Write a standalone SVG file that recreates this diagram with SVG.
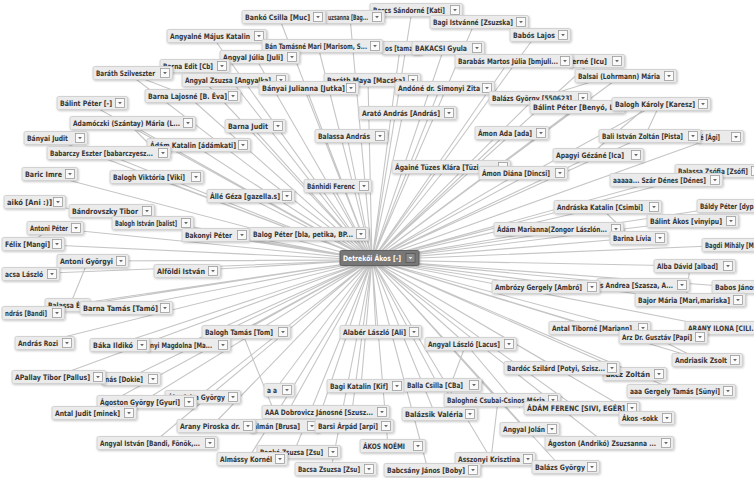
<svg xmlns="http://www.w3.org/2000/svg" xmlns:xlink="http://www.w3.org/1999/xlink" width="754" height="478" viewBox="0 0 754 478">
<style>
.e path{stroke:#c6c6c6;stroke-width:1.1;fill:none}
.b{fill:#ebebeb;stroke:#d2d2d2;stroke-width:1;filter:url(#sh)}
.t{font-family:"DejaVu Sans","Liberation Sans",sans-serif;font-weight:bold;font-size:7.5px;fill:#363636}
.hub .b{fill:#777;stroke:#606060}
.hub .t{fill:#fff}
</style>
<defs>
<filter id="sh" x="-10%" y="-30%" width="120%" height="170%">
<feDropShadow dx="0.8" dy="1" stdDeviation="0.8" flood-color="#000" flood-opacity="0.22"/>
</filter>
<g id="dd"><rect x="0" y="-4.5" width="9" height="9" fill="#fafafa" stroke="#9c9c9c" stroke-width="0.8"/><path d="M2.6,-1.1h3.8l-1.9,2.3z" fill="#666"/></g>
<g id="ddk"><rect x="0" y="-4.5" width="9" height="9" fill="#8a8a8a" stroke="#555" stroke-width="0.8"/><path d="M2.6,-1.1h3.8l-1.9,2.3z" fill="#eee"/></g>
</defs>
<rect width="754" height="478" fill="#fff"/>

<!-- connectors: every contact is linked to the hub, plus a few cross links -->
<g class="e" id="connectors">
<path d="M372,260L279,17M372,260L350,17M372,260L412,10M372,260L475,22M372,260L536,35M372,260L212,36M372,260L318,46M372,260L400,48M372,260L444,48M372,260L509,61M372,260L592,61M372,260L255,57M372,260L190,66M372,260L128,73M372,260L231,80M372,260L368,80M372,260L304,88M372,260L188,96M372,260L440,88M372,260L621,76M372,260L535,98M372,260L577,107M372,260L657,104M372,260L88,103M372,260L128,123M372,260L251,126M372,260L403,113M372,260L347,136M372,260L507,133M372,260L645,136M372,260L716,137M372,260L51,138M372,260L194,145M372,260L104,153M372,260L594,155M372,260L715,171M372,260L662,180M372,260L447,167M372,260L519,173M372,260L45,174M372,260L152,177M372,260L333,186M372,260L246,196M372,260L30,202M372,260L107,211M372,260L730,206M372,260L603,207M372,260L688,221M372,260L148,223M372,260L554,229M372,260L51,228M372,260L211,235M372,260L305,234M372,260L634,238M372,260L29,244M372,260L735,245"/>
<path d="M372,260L88,261M372,260L690,266M372,260L26,274M372,260L183,271M372,260L541,287M372,260L639,285M372,260L735,287M372,260L686,300M372,260L70,305M372,260L122,308M372,260L29,313M372,260L242,332M372,260L376,332M372,260L466,344M372,260L595,328M372,260L720,328M372,260L659,337M372,260L40,343M372,260L115,345M372,260L184,345M372,260L703,360M372,260L557,368M372,260L630,374M372,260L54,377M372,260L127,379M372,260L677,391M372,260L275,390M372,260L361,386M372,260L438,385M372,260L198,397M372,260L142,402M372,260L321,412M372,260L498,400M372,260L577,408M372,260L90,413M372,260L642,418M372,260L435,414M372,260L212,426M372,260L280,426M372,260L350,426M372,260L525,429M372,260L153,443M372,260L388,446M372,260L605,443M372,260L294,452M372,260L248,459M372,260L491,459M372,260L561,467M372,260L331,469M372,260L428,470"/>
<path d="M650,104L590,155M660,104L645,136M610,76L540,98M600,207L632,238M690,266L686,300M655,337L700,360M595,328L659,337M466,344L445,400M466,344L520,408M498,400L491,459M128,73L188,96M128,123L150,145M557,368L600,374M242,332L280,426M88,261L70,305M51,228L29,244"/>
</g>

<g id="n-barcs" transform="translate(373,10)"><rect class="b" x="-3" y="-6.5" width="92.5" height="13" rx="1.5"/><text class="t" y="2.7" textLength="72" lengthAdjust="spacingAndGlyphs">Barcs Sándorné [Kati]</text><use href="#dd" x="77.5"/></g>
<g id="n-uzsanna" transform="translate(328,17)"><rect class="b" x="-3" y="-6.5" width="59.5" height="13" rx="1.5"/><text class="t" y="2.7" textLength="40" lengthAdjust="spacingAndGlyphs">uzsanna [Bag...</text><use href="#dd" x="44.5"/></g>
<g id="n-banko-csilla" transform="translate(245,17)"><rect class="b" x="-3" y="-6.5" width="83.5" height="13" rx="1.5"/><text class="t" y="2.7" textLength="65" lengthAdjust="spacingAndGlyphs">Bankó Csilla [Muc]</text><use href="#dd" x="68.5"/></g>
<g id="n-bagi-istvanne" transform="translate(433,22)"><rect class="b" x="-3" y="-6.5" width="98.5" height="13" rx="1.5"/><text class="t" y="2.7" textLength="80" lengthAdjust="spacingAndGlyphs">Bagi Istvánné [Zsuzska]</text><use href="#dd" x="83.5"/></g>
<g id="n-babos-lajos" transform="translate(513,35)"><rect class="b" x="-3" y="-6.5" width="60.5" height="13" rx="1.5"/><text class="t" y="2.7" textLength="42" lengthAdjust="spacingAndGlyphs">Babós Lajos</text><use href="#dd" x="45.5"/></g>
<g id="n-angyalne" transform="translate(170,36)"><rect class="b" x="-3" y="-6.5" width="99.5" height="13" rx="1.5"/><text class="t" y="2.7" textLength="80" lengthAdjust="spacingAndGlyphs">Angyalné Május Katalin</text><use href="#dd" x="84.5"/></g>
<g id="n-os-tama" transform="translate(385,48)"><rect class="b" x="-3" y="-6.5" width="40" height="13" rx="1.5"/><text class="t" y="2.7" textLength="28" lengthAdjust="spacingAndGlyphs">os [tama</text></g>
<g id="n-ban-tamasne" transform="translate(265,46)"><rect class="b" x="-3" y="-6.5" width="120.5" height="13" rx="1.5"/><text class="t" y="2.7" textLength="102" lengthAdjust="spacingAndGlyphs">Bán Tamásné Mari [Marisom, S...</text><use href="#dd" x="105.5"/></g>
<g id="n-bakacsi" transform="translate(415,48)"><rect class="b" x="-3" y="-6.5" width="72.5" height="13" rx="1.5"/><text class="t" y="2.7" textLength="52" lengthAdjust="spacingAndGlyphs">BAKACSI Gyula</text><use href="#dd" x="57.5"/></g>
<g id="n-erne-icu" transform="translate(572,61)"><rect class="b" x="-3" y="-6.5" width="55.5" height="13" rx="1.5"/><text class="t" y="2.7" textLength="35" lengthAdjust="spacingAndGlyphs">erné [Icu]</text><use href="#dd" x="40.5"/></g>
<g id="n-barabas" transform="translate(458,61)"><rect class="b" x="-3" y="-6.5" width="117.5" height="13" rx="1.5"/><text class="t" y="2.7" textLength="100" lengthAdjust="spacingAndGlyphs">Barabás Martos Júlia [bmjuli...</text><use href="#dd" x="102.5"/></g>
<g id="n-angyal-julia" transform="translate(223,57)"><rect class="b" x="-3" y="-6.5" width="79.5" height="13" rx="1.5"/><text class="t" y="2.7" textLength="60" lengthAdjust="spacingAndGlyphs">Angyal Júlia [Juli]</text><use href="#dd" x="64.5"/></g>
<g id="n-barna-edit" transform="translate(163,66)"><rect class="b" x="-3" y="-6.5" width="69.5" height="13" rx="1.5"/><text class="t" y="2.7" textLength="50" lengthAdjust="spacingAndGlyphs">Barna Edit [Cb]</text><use href="#dd" x="54.5"/></g>
<g id="n-barath-szilveszter" transform="translate(96,73)"><rect class="b" x="-3" y="-6.5" width="79.5" height="13" rx="1.5"/><text class="t" y="2.7" textLength="59" lengthAdjust="spacingAndGlyphs">Baráth Szilveszter</text><use href="#dd" x="64.5"/></g>
<g id="n-angyal-zsuzsa" transform="translate(185,80)"><rect class="b" x="-3" y="-6.5" width="106.5" height="13" rx="1.5"/><text class="t" y="2.7" textLength="86" lengthAdjust="spacingAndGlyphs">Angyal Zsuzsa [Angyalka]</text><use href="#dd" x="91.5"/></g>
<g id="n-barath-maya" transform="translate(327,80)"><rect class="b" x="-3" y="-6.5" width="96.5" height="13" rx="1.5"/><text class="t" y="2.7" textLength="78" lengthAdjust="spacingAndGlyphs">Baráth Maya [Macska]</text><use href="#dd" x="81.5"/></g>
<g id="n-banyai-julianna" transform="translate(262,88)"><rect class="b" x="-3" y="-6.5" width="99.5" height="13" rx="1.5"/><text class="t" y="2.7" textLength="83" lengthAdjust="spacingAndGlyphs">Bányai Julianna [Jutka]</text><use href="#dd" x="84.5"/></g>
<g id="n-barna-lajosne" transform="translate(148,96)"><rect class="b" x="-3" y="-6.5" width="95.5" height="13" rx="1.5"/><text class="t" y="2.7" textLength="79" lengthAdjust="spacingAndGlyphs">Barna Lajosné [B. Éva]</text><use href="#dd" x="80.5"/></g>
<g id="n-andone" transform="translate(398,88)"><rect class="b" x="-3" y="-6.5" width="99.5" height="13" rx="1.5"/><text class="t" y="2.7" textLength="82" lengthAdjust="spacingAndGlyphs">Andóné dr. Simonyi Zita</text><use href="#dd" x="84.5"/></g>
<g id="n-balsai" transform="translate(578,76)"><rect class="b" x="-3" y="-6.5" width="101.5" height="13" rx="1.5"/><text class="t" y="2.7" textLength="82" lengthAdjust="spacingAndGlyphs">Balsai (Lohrmann) Mária</text><use href="#dd" x="86.5"/></g>
<g id="n-balazs-550623" transform="translate(492,98)"><rect class="b" x="-3" y="-6.5" width="101.5" height="13" rx="1.5"/><text class="t" y="2.7" textLength="80" lengthAdjust="spacingAndGlyphs">Balázs György [550623]</text><use href="#dd" x="86.5"/></g>
<g id="n-balint-benyo" transform="translate(533,107)"><rect class="b" x="-3" y="-6.5" width="95" height="13" rx="1.5"/><text class="t" y="2.7" textLength="88" lengthAdjust="spacingAndGlyphs">Bálint Péter [Benyó, L...</text></g>
<g id="n-balogh-karoly" transform="translate(615,104)"><rect class="b" x="-3" y="-6.5" width="98.5" height="13" rx="1.5"/><text class="t" y="2.7" textLength="80" lengthAdjust="spacingAndGlyphs">Balogh Károly [Karesz]</text><use href="#dd" x="83.5"/></g>
<g id="n-balint-peter" transform="translate(60,103)"><rect class="b" x="-3" y="-6.5" width="70.5" height="13" rx="1.5"/><text class="t" y="2.7" textLength="52" lengthAdjust="spacingAndGlyphs">Bálint Péter [-]</text><use href="#dd" x="55.5"/></g>
<g id="n-adamoczki" transform="translate(73,123)"><rect class="b" x="-3" y="-6.5" width="125.5" height="13" rx="1.5"/><text class="t" y="2.7" textLength="107" lengthAdjust="spacingAndGlyphs">Adamóczki (Szántay) Mária (L...</text><use href="#dd" x="110.5"/></g>
<g id="n-barna-judit" transform="translate(228,126)"><rect class="b" x="-3" y="-6.5" width="60.5" height="13" rx="1.5"/><text class="t" y="2.7" textLength="40" lengthAdjust="spacingAndGlyphs">Barna Judit</text><use href="#dd" x="45.5"/></g>
<g id="n-arato" transform="translate(362,113)"><rect class="b" x="-3" y="-6.5" width="97.5" height="13" rx="1.5"/><text class="t" y="2.7" textLength="78" lengthAdjust="spacingAndGlyphs">Arató András [András]</text><use href="#dd" x="82.5"/></g>
<g id="n-balassa-andras" transform="translate(318,136)"><rect class="b" x="-3" y="-6.5" width="72.5" height="13" rx="1.5"/><text class="t" y="2.7" textLength="52" lengthAdjust="spacingAndGlyphs">Balassa András</text><use href="#dd" x="57.5"/></g>
<g id="n-amon-ada" transform="translate(478,133)"><rect class="b" x="-3" y="-6.5" width="73.5" height="13" rx="1.5"/><text class="t" y="2.7" textLength="54" lengthAdjust="spacingAndGlyphs">Ámon Ada [ada]</text><use href="#dd" x="58.5"/></g>
<g id="n-agi" transform="translate(700,137)"><rect class="b" x="-3" y="-6.5" width="46.5" height="13" rx="1.5"/><text class="t" y="2.7" textLength="20" lengthAdjust="spacingAndGlyphs">é [Ági]</text><use href="#dd" x="31.5"/></g>
<g id="n-bali" transform="translate(602,136)"><rect class="b" x="-3" y="-6.5" width="101.5" height="13" rx="1.5"/><text class="t" y="2.7" textLength="81" lengthAdjust="spacingAndGlyphs">Bali István Zoltán [Pista]</text><use href="#dd" x="86.5"/></g>
<g id="n-banyai-judit" transform="translate(27,138)"><rect class="b" x="-3" y="-6.5" width="63.5" height="13" rx="1.5"/><text class="t" y="2.7" textLength="41" lengthAdjust="spacingAndGlyphs">Bányai Judit</text><use href="#dd" x="48.5"/></g>
<g id="n-adam-katalin" transform="translate(150,145)"><rect class="b" x="-3" y="-6.5" width="103.5" height="13" rx="1.5"/><text class="t" y="2.7" textLength="86" lengthAdjust="spacingAndGlyphs">Ádám Katalin [ádámkati]</text><use href="#dd" x="88.5"/></g>
<g id="n-babarczy" transform="translate(50,153)"><rect class="b" x="-3" y="-6.5" width="123.5" height="13" rx="1.5"/><text class="t" y="2.7" textLength="103" lengthAdjust="spacingAndGlyphs">Babarczy Eszter [babarczyesz...</text><use href="#dd" x="108.5"/></g>
<g id="n-apagyi" transform="translate(556,155)"><rect class="b" x="-3" y="-6.5" width="90.5" height="13" rx="1.5"/><text class="t" y="2.7" textLength="68" lengthAdjust="spacingAndGlyphs">Apagyi Gézáné [Ica]</text><use href="#dd" x="75.5"/></g>
<g id="n-balassa-zsofia" transform="translate(678,171)"><rect class="b" x="-3" y="-6.5" width="88.5" height="13" rx="1.5"/><text class="t" y="2.7" textLength="70" lengthAdjust="spacingAndGlyphs">Balassa Zsófia [Zsófi]</text><use href="#dd" x="73.5"/></g>
<g id="n-szar-denes" transform="translate(613,180)"><rect class="b" x="-3" y="-6.5" width="112.5" height="13" rx="1.5"/><text class="t" y="2.7" textLength="93" lengthAdjust="spacingAndGlyphs">aaaaa... Szár Dénes [Dénes]</text><use href="#dd" x="97.5"/></g>
<g id="n-againe" transform="translate(395,167)"><rect class="b" x="-3" y="-6.5" width="118.5" height="13" rx="1.5"/><text class="t" y="2.7" textLength="95" lengthAdjust="spacingAndGlyphs">Ágainé Tüzes Klára [Tüzi, ...</text><use href="#dd" x="103.5"/></g>
<g id="n-amon-diana" transform="translate(482,173)"><rect class="b" x="-3" y="-6.5" width="88.5" height="13" rx="1.5"/><text class="t" y="2.7" textLength="68" lengthAdjust="spacingAndGlyphs">Ámon Diána [Dincsi]</text><use href="#dd" x="73.5"/></g>
<g id="n-baric" transform="translate(25,174)"><rect class="b" x="-3" y="-6.5" width="55.5" height="13" rx="1.5"/><text class="t" y="2.7" textLength="37" lengthAdjust="spacingAndGlyphs">Baric Imre</text><use href="#dd" x="40.5"/></g>
<g id="n-balogh-viktoria" transform="translate(113,177)"><rect class="b" x="-3" y="-6.5" width="93.5" height="13" rx="1.5"/><text class="t" y="2.7" textLength="72" lengthAdjust="spacingAndGlyphs">Balogh Viktória [Viki]</text><use href="#dd" x="78.5"/></g>
<g id="n-banhidi" transform="translate(307,186)"><rect class="b" x="-3" y="-6.5" width="67.5" height="13" rx="1.5"/><text class="t" y="2.7" textLength="48" lengthAdjust="spacingAndGlyphs">Bánhidi Ferenc</text><use href="#dd" x="52.5"/></g>
<g id="n-alle" transform="translate(210,196)"><rect class="b" x="-3" y="-6.5" width="87.5" height="13" rx="1.5"/><text class="t" y="2.7" textLength="70" lengthAdjust="spacingAndGlyphs">Állé Géza [gazella.s]</text><use href="#dd" x="72.5"/></g>
<g id="n-aiko" transform="translate(7,202)"><rect class="b" x="-3" y="-6.5" width="61.5" height="13" rx="1.5"/><text class="t" y="2.7" textLength="45" lengthAdjust="spacingAndGlyphs">aikó [Ani :)]</text><use href="#dd" x="46.5"/></g>
<g id="n-bandrovszky" transform="translate(72,211)"><rect class="b" x="-3" y="-6.5" width="85.5" height="13" rx="1.5"/><text class="t" y="2.7" textLength="66" lengthAdjust="spacingAndGlyphs">Bándrovszky Tibor</text><use href="#dd" x="70.5"/></g>
<g id="n-baldy" transform="translate(700,206)"><rect class="b" x="-3" y="-6.5" width="70" height="13" rx="1.5"/><text class="t" y="2.7" textLength="60" lengthAdjust="spacingAndGlyphs">Báldy Péter [dyp...</text></g>
<g id="n-andraska" transform="translate(557,207)"><rect class="b" x="-3" y="-6.5" width="107.5" height="13" rx="1.5"/><text class="t" y="2.7" textLength="86" lengthAdjust="spacingAndGlyphs">Andráska Katalin [Csimbi]</text><use href="#dd" x="92.5"/></g>
<g id="n-balint-akos" transform="translate(650,221)"><rect class="b" x="-3" y="-6.5" width="91.5" height="13" rx="1.5"/><text class="t" y="2.7" textLength="72" lengthAdjust="spacingAndGlyphs">Bálint Ákos [vinyipu]</text><use href="#dd" x="76.5"/></g>
<g id="n-balogh-istvan" transform="translate(115,223)"><rect class="b" x="-3" y="-6.5" width="81.5" height="13" rx="1.5"/><text class="t" y="2.7" textLength="62" lengthAdjust="spacingAndGlyphs">Balogh István [balist]</text><use href="#dd" x="66.5"/></g>
<g id="n-adam-marianna" transform="translate(497,229)"><rect class="b" x="-3" y="-6.5" width="129.5" height="13" rx="1.5"/><text class="t" y="2.7" textLength="110" lengthAdjust="spacingAndGlyphs">Ádám Marianna(Zongor Lászlón...</text><use href="#dd" x="114.5"/></g>
<g id="n-antoni-peter" transform="translate(30,228)"><rect class="b" x="-3" y="-6.5" width="56.5" height="13" rx="1.5"/><text class="t" y="2.7" textLength="38" lengthAdjust="spacingAndGlyphs">Antoni Péter</text><use href="#dd" x="41.5"/></g>
<g id="n-bakonyi" transform="translate(185,235)"><rect class="b" x="-3" y="-6.5" width="67.5" height="13" rx="1.5"/><text class="t" y="2.7" textLength="47" lengthAdjust="spacingAndGlyphs">Bakonyi Péter</text><use href="#dd" x="52.5"/></g>
<g id="n-balog-peter" transform="translate(253,234)"><rect class="b" x="-3" y="-6.5" width="118.5" height="13" rx="1.5"/><text class="t" y="2.7" textLength="100" lengthAdjust="spacingAndGlyphs">Balog Péter [bla, petika, BP...</text><use href="#dd" x="103.5"/></g>
<g id="n-barina" transform="translate(613,238)"><rect class="b" x="-3" y="-6.5" width="57.5" height="13" rx="1.5"/><text class="t" y="2.7" textLength="38" lengthAdjust="spacingAndGlyphs">Barina Lívia</text><use href="#dd" x="42.5"/></g>
<g id="n-felix" transform="translate(5,244)"><rect class="b" x="-3" y="-6.5" width="62.5" height="13" rx="1.5"/><text class="t" y="2.7" textLength="45" lengthAdjust="spacingAndGlyphs">Félix [Mangi]</text><use href="#dd" x="47.5"/></g>
<g id="n-bagdi" transform="translate(705,245)"><rect class="b" x="-3" y="-6.5" width="65" height="13" rx="1.5"/><text class="t" y="2.7" textLength="55" lengthAdjust="spacingAndGlyphs">Bagdi Mihály [M...</text></g>
<g id="n-antoni-gyorgyi" transform="translate(60,261)"><rect class="b" x="-3" y="-6.5" width="71.5" height="13" rx="1.5"/><text class="t" y="2.7" textLength="53" lengthAdjust="spacingAndGlyphs">Antoni Györgyi</text><use href="#dd" x="56.5"/></g>
<g id="n-alba" transform="translate(657,266)"><rect class="b" x="-3" y="-6.5" width="81.5" height="13" rx="1.5"/><text class="t" y="2.7" textLength="61" lengthAdjust="spacingAndGlyphs">Alba Dávid [albad]</text><use href="#dd" x="66.5"/></g>
<g id="n-acsa" transform="translate(5,274)"><rect class="b" x="-3" y="-6.5" width="57.5" height="13" rx="1.5"/><text class="t" y="2.7" textLength="38" lengthAdjust="spacingAndGlyphs">acsa László</text><use href="#dd" x="42.5"/></g>
<g id="n-alfoldi" transform="translate(157,271)"><rect class="b" x="-3" y="-6.5" width="66.5" height="13" rx="1.5"/><text class="t" y="2.7" textLength="48" lengthAdjust="spacingAndGlyphs">Alföldi István</text><use href="#dd" x="51.5"/></g>
<g id="n-andrea" transform="translate(600,285)"><rect class="b" x="-3" y="-6.5" width="92.5" height="13" rx="1.5"/><text class="t" y="2.7" textLength="73" lengthAdjust="spacingAndGlyphs">s Andrea [Szasza, A...</text><use href="#dd" x="77.5"/></g>
<g id="n-ambrozy" transform="translate(495,287)"><rect class="b" x="-3" y="-6.5" width="107.5" height="13" rx="1.5"/><text class="t" y="2.7" textLength="87" lengthAdjust="spacingAndGlyphs">Ambrózy Gergely [Ambró]</text><use href="#dd" x="92.5"/></g>
<g id="n-babos-janos" transform="translate(715,287)"><rect class="b" x="-3" y="-6.5" width="50" height="13" rx="1.5"/><text class="t" y="2.7" textLength="42" lengthAdjust="spacingAndGlyphs">Babos János</text></g>
<g id="n-bajor" transform="translate(638,300)"><rect class="b" x="-3" y="-6.5" width="110.5" height="13" rx="1.5"/><text class="t" y="2.7" textLength="92" lengthAdjust="spacingAndGlyphs">Bajor Mária [Mari,mariska]</text><use href="#dd" x="95.5"/></g>
<g id="n-balassa-eva" transform="translate(48,305)"><rect class="b" x="-3" y="-6.5" width="45" height="13" rx="1.5"/><text class="t" y="2.7" textLength="40" lengthAdjust="spacingAndGlyphs">Balassa Éva</text></g>
<g id="n-barna-tamas" transform="translate(83,308)"><rect class="b" x="-3" y="-6.5" width="92.5" height="13" rx="1.5"/><text class="t" y="2.7" textLength="75" lengthAdjust="spacingAndGlyphs">Barna Tamás [Tamó]</text><use href="#dd" x="77.5"/></g>
<g id="n-andras-bandi" transform="translate(5,313)"><rect class="b" x="-3" y="-6.5" width="62.5" height="13" rx="1.5"/><text class="t" y="2.7" textLength="42" lengthAdjust="spacingAndGlyphs">ndrás [Bandi]</text><use href="#dd" x="47.5"/></g>
<g id="n-balogh-tamas" transform="translate(205,332)"><rect class="b" x="-3" y="-6.5" width="88.5" height="13" rx="1.5"/><text class="t" y="2.7" textLength="68" lengthAdjust="spacingAndGlyphs">Balogh Tamás [Tom]</text><use href="#dd" x="73.5"/></g>
<g id="n-alaber" transform="translate(343,332)"><rect class="b" x="-3" y="-6.5" width="81.5" height="13" rx="1.5"/><text class="t" y="2.7" textLength="63" lengthAdjust="spacingAndGlyphs">Alabér László [Ali]</text><use href="#dd" x="66.5"/></g>
<g id="n-angyal-laszlo" transform="translate(428,344)"><rect class="b" x="-3" y="-6.5" width="91.5" height="13" rx="1.5"/><text class="t" y="2.7" textLength="72" lengthAdjust="spacingAndGlyphs">Angyal László [Lacus]</text><use href="#dd" x="76.5"/></g>
<g id="n-antal-tiborne" transform="translate(552,328)"><rect class="b" x="-3" y="-6.5" width="101.5" height="13" rx="1.5"/><text class="t" y="2.7" textLength="80" lengthAdjust="spacingAndGlyphs">Antal Tiborné [Mariann]</text><use href="#dd" x="86.5"/></g>
<g id="n-arany-ilona" transform="translate(688,328)"><rect class="b" x="-3" y="-6.5" width="80" height="13" rx="1.5"/><text class="t" y="2.7" textLength="70" lengthAdjust="spacingAndGlyphs">ARANY ILONA [CILI...</text></g>
<g id="n-arz" transform="translate(622,337)"><rect class="b" x="-3" y="-6.5" width="88.5" height="13" rx="1.5"/><text class="t" y="2.7" textLength="70" lengthAdjust="spacingAndGlyphs">Arz Dr. Gusztáv [Papi]</text><use href="#dd" x="73.5"/></g>
<g id="n-andras-rozi" transform="translate(18,343)"><rect class="b" x="-3" y="-6.5" width="59.5" height="13" rx="1.5"/><text class="t" y="2.7" textLength="40" lengthAdjust="spacingAndGlyphs">András Rozi</text><use href="#dd" x="44.5"/></g>
<g id="n-magdolna" transform="translate(150,345)"><rect class="b" x="-3" y="-6.5" width="83.5" height="13" rx="1.5"/><text class="t" y="2.7" textLength="62" lengthAdjust="spacingAndGlyphs">nyi Magdolna [Ma...</text><use href="#dd" x="68.5"/></g>
<g id="n-baka" transform="translate(93,345)"><rect class="b" x="-3" y="-6.5" width="59.5" height="13" rx="1.5"/><text class="t" y="2.7" textLength="40" lengthAdjust="spacingAndGlyphs">Báka Ildikó</text><use href="#dd" x="44.5"/></g>
<g id="n-andriasik" transform="translate(675,360)"><rect class="b" x="-3" y="-6.5" width="70.5" height="13" rx="1.5"/><text class="t" y="2.7" textLength="52" lengthAdjust="spacingAndGlyphs">Andriasik Zsolt</text><use href="#dd" x="55.5"/></g>
<g id="n-zoltan" transform="translate(606,374)"><rect class="b" x="-3" y="-6.5" width="63.5" height="13" rx="1.5"/><text class="t" y="2.7" textLength="44" lengthAdjust="spacingAndGlyphs">akcz Zoltán</text><use href="#dd" x="48.5"/></g>
<g id="n-bardoc" transform="translate(507,368)"><rect class="b" x="-3" y="-6.5" width="115.5" height="13" rx="1.5"/><text class="t" y="2.7" textLength="98" lengthAdjust="spacingAndGlyphs">Bardóc Szilárd [Potyi, Szisz...</text><use href="#dd" x="100.5"/></g>
<g id="n-dokie" transform="translate(105,379)"><rect class="b" x="-3" y="-6.5" width="58.5" height="13" rx="1.5"/><text class="t" y="2.7" textLength="38" lengthAdjust="spacingAndGlyphs">nás [Dokie]</text><use href="#dd" x="43.5"/></g>
<g id="n-apallay" transform="translate(15,377)"><rect class="b" x="-3" y="-6.5" width="93.5" height="13" rx="1.5"/><text class="t" y="2.7" textLength="75" lengthAdjust="spacingAndGlyphs">APallay Tibor [Pallus]</text><use href="#dd" x="78.5"/></g>
<g id="n-gergely-tamas" transform="translate(630,391)"><rect class="b" x="-3" y="-6.5" width="108.5" height="13" rx="1.5"/><text class="t" y="2.7" textLength="90" lengthAdjust="spacingAndGlyphs">aaa Gergely Tamás [Sünyi]</text><use href="#dd" x="93.5"/></g>
<g id="n-aa" transform="translate(267,390)"><rect class="b" x="-3" y="-6.5" width="30.5" height="13" rx="1.5"/><text class="t" y="2.7" textLength="10" lengthAdjust="spacingAndGlyphs">a a</text><use href="#dd" x="15.5"/></g>
<g id="n-bagi-katalin" transform="translate(330,386)"><rect class="b" x="-3" y="-6.5" width="77.5" height="13" rx="1.5"/><text class="t" y="2.7" textLength="58" lengthAdjust="spacingAndGlyphs">Bagi Katalin [Kif]</text><use href="#dd" x="62.5"/></g>
<g id="n-balla" transform="translate(407,385)"><rect class="b" x="-3" y="-6.5" width="77.5" height="13" rx="1.5"/><text class="t" y="2.7" textLength="56" lengthAdjust="spacingAndGlyphs">Balla Csilla [CBa]</text><use href="#dd" x="62.5"/></g>
<g id="n-gyorgy" transform="translate(168,397)"><rect class="b" x="-3" y="-6.5" width="75.5" height="13" rx="1.5"/><text class="t" y="2.7" textLength="57" lengthAdjust="spacingAndGlyphs">Ábrahám György</text><use href="#dd" x="60.5"/></g>
<g id="n-agoston-gyorgy" transform="translate(100,402)"><rect class="b" x="-3" y="-6.5" width="99.5" height="13" rx="1.5"/><text class="t" y="2.7" textLength="80" lengthAdjust="spacingAndGlyphs">Ágoston György [Gyuri]</text><use href="#dd" x="84.5"/></g>
<g id="n-baloghne" transform="translate(447,400)"><rect class="b" x="-3" y="-6.5" width="116.5" height="13" rx="1.5"/><text class="t" y="2.7" textLength="98" lengthAdjust="spacingAndGlyphs">Baloghné Csubai-Csinos Mária</text><use href="#dd" x="101.5"/></g>
<g id="n-adam-ferenc" transform="translate(527,408)"><rect class="b" x="-3" y="-6.5" width="115.5" height="13" rx="1.5"/><text class="t" y="2.7" textLength="98" lengthAdjust="spacingAndGlyphs">ÁDÁM FERENC [SIVI, EGÉR]</text><use href="#dd" x="100.5"/></g>
<g id="n-dobrovicz" transform="translate(265,412)"><rect class="b" x="-3" y="-6.5" width="127.5" height="13" rx="1.5"/><text class="t" y="2.7" textLength="108" lengthAdjust="spacingAndGlyphs">AAA Dobrovicz Jánosné [Szusz...</text><use href="#dd" x="112.5"/></g>
<g id="n-antal-judit" transform="translate(55,413)"><rect class="b" x="-3" y="-6.5" width="84.5" height="13" rx="1.5"/><text class="t" y="2.7" textLength="65" lengthAdjust="spacingAndGlyphs">Antal Judit [minek]</text><use href="#dd" x="69.5"/></g>
<g id="n-akos-sokk" transform="translate(622,418)"><rect class="b" x="-3" y="-6.5" width="55.5" height="13" rx="1.5"/><text class="t" y="2.7" textLength="36" lengthAdjust="spacingAndGlyphs">Ákos -sokk</text><use href="#dd" x="40.5"/></g>
<g id="n-balazsik" transform="translate(405,414)"><rect class="b" x="-3" y="-6.5" width="75.5" height="13" rx="1.5"/><text class="t" y="2.7" textLength="58" lengthAdjust="spacingAndGlyphs">Balázsik Valéria</text><use href="#dd" x="60.5"/></g>
<g id="n-kalman" transform="translate(253,426)"><rect class="b" x="-3" y="-6.5" width="69.5" height="13" rx="1.5"/><text class="t" y="2.7" textLength="47" lengthAdjust="spacingAndGlyphs">álmán [Brusa]</text><use href="#dd" x="54.5"/></g>
<g id="n-arany-piroska" transform="translate(180,426)"><rect class="b" x="-3" y="-6.5" width="78.5" height="13" rx="1.5"/><text class="t" y="2.7" textLength="60" lengthAdjust="spacingAndGlyphs">Arany Piroska dr.</text><use href="#dd" x="63.5"/></g>
<g id="n-barsi" transform="translate(318,426)"><rect class="b" x="-3" y="-6.5" width="78.5" height="13" rx="1.5"/><text class="t" y="2.7" textLength="60" lengthAdjust="spacingAndGlyphs">Barsi Árpád [arpi]</text><use href="#dd" x="63.5"/></g>
<g id="n-angyal-jolan" transform="translate(503,429)"><rect class="b" x="-3" y="-6.5" width="59.5" height="13" rx="1.5"/><text class="t" y="2.7" textLength="42" lengthAdjust="spacingAndGlyphs">Angyal Jolán</text><use href="#dd" x="44.5"/></g>
<g id="n-angyal-istvan" transform="translate(100,443)"><rect class="b" x="-3" y="-6.5" width="120.5" height="13" rx="1.5"/><text class="t" y="2.7" textLength="100" lengthAdjust="spacingAndGlyphs">Angyal István [Bandi, Fönök,...</text><use href="#dd" x="105.5"/></g>
<g id="n-akos-noemi" transform="translate(363,446)"><rect class="b" x="-3" y="-6.5" width="65.5" height="13" rx="1.5"/><text class="t" y="2.7" textLength="42" lengthAdjust="spacingAndGlyphs">ÁKOS NOÉMI</text><use href="#dd" x="50.5"/></g>
<g id="n-agoston-zsuzsanna" transform="translate(548,443)"><rect class="b" x="-3" y="-6.5" width="128.5" height="13" rx="1.5"/><text class="t" y="2.7" textLength="108" lengthAdjust="spacingAndGlyphs">Ágoston (Andrikó) Zsuzsanna ...</text><use href="#dd" x="113.5"/></g>
<g id="n-banko-zsuzsa" transform="translate(260,452)"><rect class="b" x="-3" y="-6.5" width="83.5" height="13" rx="1.5"/><text class="t" y="2.7" textLength="63" lengthAdjust="spacingAndGlyphs">Bankó Zsuzsa [Zsu]</text><use href="#dd" x="68.5"/></g>
<g id="n-almassy" transform="translate(220,459)"><rect class="b" x="-3" y="-6.5" width="70.5" height="13" rx="1.5"/><text class="t" y="2.7" textLength="52" lengthAdjust="spacingAndGlyphs">Almássy Kornél</text><use href="#dd" x="55.5"/></g>
<g id="n-asszonyi" transform="translate(458,459)"><rect class="b" x="-3" y="-6.5" width="80.5" height="13" rx="1.5"/><text class="t" y="2.7" textLength="62" lengthAdjust="spacingAndGlyphs">Asszonyi Krisztina</text><use href="#dd" x="65.5"/></g>
<g id="n-balazs-gyorgy" transform="translate(535,467)"><rect class="b" x="-3" y="-6.5" width="67.5" height="13" rx="1.5"/><text class="t" y="2.7" textLength="50" lengthAdjust="spacingAndGlyphs">Balázs György</text><use href="#dd" x="52.5"/></g>
<g id="n-bacsa" transform="translate(298,469)"><rect class="b" x="-3" y="-6.5" width="81.5" height="13" rx="1.5"/><text class="t" y="2.7" textLength="62" lengthAdjust="spacingAndGlyphs">Bacsa Zsuzsa [Zsu]</text><use href="#dd" x="66.5"/></g>
<g id="n-babcsany" transform="translate(387,470)"><rect class="b" x="-3" y="-6.5" width="96.5" height="13" rx="1.5"/><text class="t" y="2.7" textLength="78" lengthAdjust="spacingAndGlyphs">Babcsány János [Boby]</text><use href="#dd" x="81.5"/></g>

<g id="n-detrekoi" class="hub" transform="translate(343,258)"><rect class="b" x="-3" y="-7.5" width="79" height="15" rx="1.5"/><text class="t" y="2.7" textLength="58" lengthAdjust="spacingAndGlyphs">Detrekői Ákos [-]</text><use href="#ddk" x="63"/></g>
</svg>
